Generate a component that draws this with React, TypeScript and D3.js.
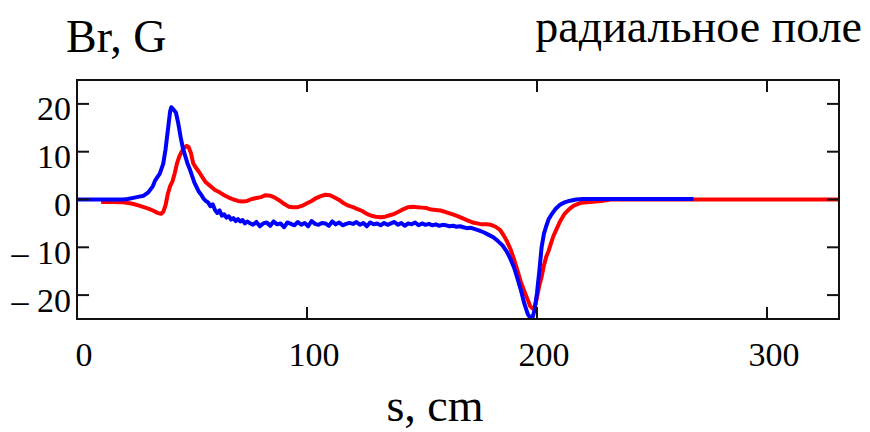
import React from "react";
import * as d3 from "d3";

const xTicks = [0, 100, 200, 300];
const yTicks = [-20, -10, 0, 10, 20];

const blueS = [0, 10, 20, 22, 25, 27, 29, 31, 33, 34, 36, 37.5, 38.5, 39.5, 40.5, 41, 42, 43, 44, 45, 46, 47, 48, 49, 50, 51, 52, 53, 54, 55, 56, 57, 58, 59, 60, 61, 62, 63, 64, 65, 66, 67, 68, 69, 70, 71, 72, 73, 74,
  75, 76.5, 78, 79.5, 81, 82.5, 84, 85.5, 87, 88.5, 90, 91.5, 93, 94.5, 96, 97.5, 99, 100.5, 102, 103.5, 105, 106.5, 108, 109.5, 111, 112.5, 114, 115.5, 117, 118.5, 120, 121.5, 123, 124.5, 126, 127.5, 129, 130.5, 132, 133.5, 135, 136.5, 138, 139.5, 141, 142.5, 144, 145.5, 147, 148.5, 150, 151.5, 153, 154.5, 156, 157.5, 159, 160.5, 162, 163.5, 165, 166.5, 168, 169.5, 171,
  173, 175, 177, 179, 181, 183, 185, 187, 188.5, 190, 191.5, 193, 194.5, 196, 197, 198, 199, 200, 201, 202, 203, 204, 205, 206.5, 208, 210, 212, 214, 217, 220, 230, 240, 250, 260, 268];
const blueB = [0, 0, 0, 0.1, 0.4, 0.6, 0.8, 1.5, 2.8, 4, 5.4, 7.5, 10.5, 14.5, 18.5, 19.3, 18.8, 18.2, 16, 13.2, 10.8, 9.2, 7.6, 6.4, 5.0, 3.6, 2.6, 1.6, 1.0, 0.2, -0.3, -0.6, -1.4, -1.0, -2.2, -2.8, -2.3, -3.4, -3.1, -3.8, -3.5, -4.2, -3.9, -4.5, -4.1, -4.6, -4.3, -5.0, -4.6,
  -4.9, -5.3, -4.7, -5.6, -5.0, -4.8, -5.5, -4.6, -5.2, -5.0, -5.8, -4.8, -5.1, -5.4, -4.7, -5.3, -4.9, -5.6, -4.5, -5.1, -5.3, -4.9, -5.0, -5.5, -4.6, -5.2, -4.8, -5.4, -5.1, -4.9, -5.1, -4.7, -5.3, -4.9, -5.6, -4.8, -5.2, -5.0, -5.4, -4.9, -5.3, -5.0, -4.7, -5.3, -4.9, -5.5, -5.0, -5.2, -4.8, -5.4,
  -5.0, -5.3, -5.1, -5.4, -5.2, -5.5, -5.3, -5.4, -5.6, -5.5, -5.7, -5.6, -5.8, -6.0, -5.9,
  -6.2, -6.5, -6.9, -7.4, -7.9, -8.7, -9.6, -11, -12.5, -14.2, -16.5, -19, -21.8, -24, -24.7, -24.8, -23, -19.5, -15, -10, -7.2, -5.6, -4.2, -3.0, -2.0, -1.1, -0.6, -0.3, 0, 0.1, 0.1, 0.1, 0.1, 0.1, 0.1];

const redS = [10.5, 15, 20, 23, 25, 27, 29, 31, 33, 35, 36.5, 37.5, 38.5, 39.5, 40.5, 41.5, 42.5, 43.5, 44.5, 45.5, 46.5, 47.5, 48.5, 49.5, 50.5, 51.5, 53, 54.5, 56, 58, 60, 62, 64, 66, 68, 70, 72, 74, 76, 78, 80, 82, 84, 86, 88, 90, 92, 94, 96, 98, 100, 102, 104, 106, 108, 110, 112, 114, 116, 118, 120, 122, 124, 126, 128, 130, 132, 134, 136, 138, 140, 142, 144, 146, 148, 150, 152, 154, 156, 158, 160, 162, 164, 166, 168, 170, 172, 174, 176, 178, 180, 182, 184, 185.5, 187, 188.5, 190, 191.5, 193, 194.5, 196, 197, 198, 199, 200, 201, 202, 203, 204, 205, 206, 207, 208.5, 210, 212, 214, 216, 219, 223, 228, 232, 240, 331];
const redB = [-0.5, -0.5, -0.6, -0.8, -1.0, -1.3, -1.6, -1.9, -2.3, -2.8, -3.0, -2.6, -1.2, 1.2, 2.8, 3.8, 5.5, 7.6, 9.0, 10.0, 10.8, 11.2, 11.0, 9.8, 7.6, 6.8, 5.8, 4.7, 3.6, 2.8, 2.0, 1.5, 0.9, 0.4, 0.0, -0.3, -0.4, -0.3, 0.1, 0.3, 0.5, 0.9, 0.8, 0.4, -0.2, -0.9, -1.5, -1.6, -1.6, -1.3, -0.8, -0.3, 0.3, 0.7, 1.0, 0.9, 0.4, -0.1, -0.8, -1.3, -1.6, -2.0, -2.4, -3.0, -3.4, -3.6, -3.7, -3.6, -3.3, -3.0, -2.5, -2.0, -1.6, -1.5, -1.6, -1.7, -1.8, -2.1, -2.2, -2.3, -2.6, -2.9, -3.2, -3.6, -4.0, -4.4, -4.8, -5.0, -5.2, -5.2, -5.3, -5.7, -6.4, -7.5, -8.8, -10.4, -12.5, -14.8, -17.3, -19.2, -21, -22.3, -22.8, -22.5, -20.5, -18, -16.2, -13.8, -12, -10.8, -9.3, -7.8, -6.2, -4.6, -3.0, -2.0, -1.3, -0.7, -0.5, -0.3, 0, 0, 0];

const W = 870, H = 432;
const L = 77, R = 839, T = 80, B = 319;
const FONT = "'Liberation Serif', 'Times New Roman', serif";

export default function App() {
  const x = d3.scaleLinear().domain([0, 331.3]).range([L, R]);
  const y = d3.scaleLinear().domain([-25, 25]).range([B, T]);
  const line = d3.line<[number, number]>().x(d => x(d[0])).y(d => y(d[1]));
  const red = redS.map((s, i) => [s, redB[i]] as [number, number]);
  const blue = blueS.map((s, i) => [s, blueB[i]] as [number, number]);
  const tl = 12;
  const fmt = (d: number) => (d < 0 ? `– ${Math.abs(d)}` : `${d}`);
  return (
    <svg width={W} height={H} style={{ position: "absolute", left: 0, top: 0, background: "#fff" }}>
      <defs>
        <clipPath id="plot"><rect x={L} y={T} width={R - L} height={B - T} /></clipPath>
      </defs>
      <g clipPath="url(#plot)" fill="none" strokeWidth={4} strokeLinejoin="round">
        <path d={line(red) || ""} stroke="#ff0000" />
        <path d={line(blue) || ""} stroke="#0000ff" />
      </g>
      <rect x={L} y={T} width={R - L} height={B - T} fill="none" stroke="#111" strokeWidth={2} />
      <g stroke="#111" strokeWidth={2}>
        {xTicks.filter(t => t > 0).map(t => (
          <g key={"xt" + t}>
            <line x1={x(t)} x2={x(t)} y1={B} y2={B - tl} />
            <line x1={x(t)} x2={x(t)} y1={T} y2={T + tl} />
          </g>
        ))}
        {yTicks.map(t => (
          <g key={"yt" + t}>
            <line x1={L} x2={L + tl} y1={y(t)} y2={y(t)} />
            <line x1={R} x2={R - tl} y1={y(t)} y2={y(t)} />
          </g>
        ))}
      </g>
      <g fontFamily={FONT} fontSize={34} fill="#000">
        {xTicks.map(t => (
          <text key={"xl" + t} x={x(t) + 7} y={366} textAnchor="middle">{t}</text>
        ))}
        {yTicks.map(t => (
          <text key={"yl" + t} x={71} y={y(t) + 16.5} textAnchor="end">{fmt(t)}</text>
        ))}
      </g>
      <g fontFamily={FONT} fontSize={46} fill="#000">
        <text x={66} y={52}>Br, G</text>
        <text x={862} y={42} textAnchor="end">радиальное поле</text>
        <text x={435} y={421} textAnchor="middle">s, cm</text>
      </g>
    </svg>
  );
}
